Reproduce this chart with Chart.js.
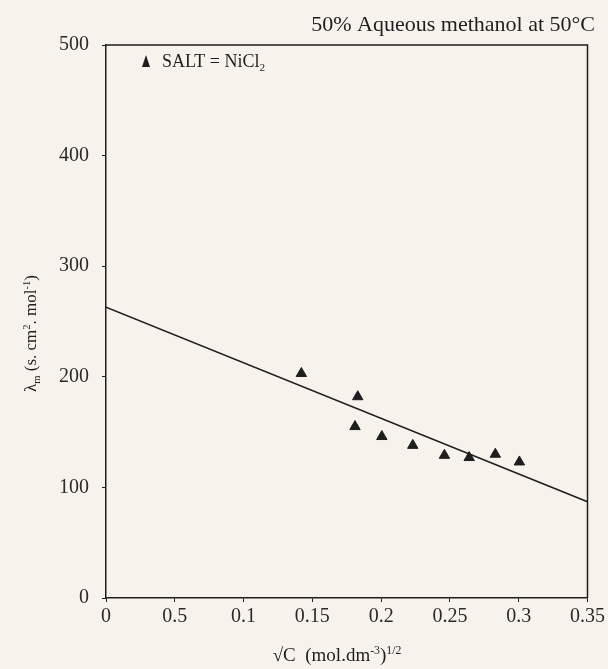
<!DOCTYPE html>
<html lang="en">
<head>
    <meta charset="UTF-8">
    <title>Molar conductance vs sqrt C</title>
    <script src="https://cdn.jsdelivr.net/npm/chart.js"></script>
    <style>
        body {
            margin: 0;
            padding: 0;
            background: #f7f3ec;
        }
        .chart-container {
            width: 608px;
            height: 669px;
        }
    </style>
</head>
<body>
    <div class="chart-container">
        <canvas id="condChart" width="608" height="669"></canvas>
    </div>

    <script>
        // Data
        const sqrtC = [0.142, 0.183, 0.181, 0.2005, 0.223, 0.246, 0.264, 0.283, 0.3005];
        const lambdaM = [203, 182, 155, 146, 138, 129, 127, 130, 123];

        // Fitted straight line (end points)
        const fitX = [0, 0.35];
        const fitY = [263, 87];

        // Tick labels as printed on the original
        const xTickLabels = ['0', '0.5', '0.1', '0.15', '0.2', '0.25', '0.3', '0.35'];
        const yTickValues = [0, 100, 200, 300, 400, 500];

        const serif = '"Liberation Serif", "DejaVu Serif", serif';
        const ink = '#1e1e1e';

        // draw text with sub / superscripts
        function richText(ctx, parts, x, y, size, align) {
            const fs = p => (p.sub || p.sup) ? size * 0.62 : size;
            let w = 0;
            parts.forEach(p => {
                ctx.font = fs(p) + 'px ' + serif;
                w += ctx.measureText(p.t).width;
            });
            let cx = align === 'center' ? x - w / 2 : (align === 'right' ? x - w : x);
            parts.forEach(p => {
                ctx.font = fs(p) + 'px ' + serif;
                const dy = p.sub ? size * 0.22 : (p.sup ? -size * 0.38 : 0);
                ctx.fillText(p.t, cx, y + dy);
                cx += ctx.measureText(p.t).width;
            });
        }

        const annotations = {
            id: 'annotations',
            afterDraw(chart) {
                const ctx = chart.ctx;
                const a = chart.chartArea;
                ctx.save();

                // frame top and right
                ctx.strokeStyle = ink;
                ctx.lineWidth = 1.5;
                ctx.beginPath();
                ctx.moveTo(a.left, a.top);
                ctx.lineTo(a.right, a.top);
                ctx.lineTo(a.right, a.bottom);
                ctx.stroke();

                ctx.fillStyle = ink;
                ctx.textBaseline = 'alphabetic';

                // title
                richText(ctx, [{ t: '50% Aqueous methanol at 50°C' }], 595, 31, 22, 'right');

                // legend
                const lx = a.left + 40, ly = a.top + 22;
                ctx.beginPath();
                ctx.moveTo(lx, ly - 12);
                ctx.lineTo(lx - 4, ly);
                ctx.lineTo(lx + 4, ly);
                ctx.closePath();
                ctx.fill();
                richText(ctx, [{ t: 'SALT = NiCl' }, { t: '2', sub: true }], lx + 16, ly, 18, 'left');

                // x axis title
                richText(ctx, [{ t: '√C  (mol.dm' }, { t: '-3', sup: true }, { t: ')' }, { t: '1/2', sup: true }],
                    337, 661, 19, 'center');

                // y axis title (rotated)
                ctx.translate(30, (a.top + a.bottom) / 2 + 12);
                ctx.rotate(-Math.PI / 2);
                richText(ctx, [{ t: 'λ' }, { t: 'm', sub: true }, { t: ' (s. cm' }, { t: '2', sup: true },
                    { t: '. mol' }, { t: '-1', sup: true }, { t: ')' }], 0, 6, 17, 'center');

                ctx.restore();
            }
        };

        const ctx = document.getElementById('condChart').getContext('2d');

        const condChart = new Chart(ctx, {
            type: 'scatter',
            data: {
                datasets: [{
                    label: 'SALT = NiCl2',
                    data: sqrtC.map((x, i) => ({ x: x, y: lambdaM[i] })),
                    pointStyle: 'triangle',
                    pointRadius: 6,
                    backgroundColor: ink,
                    borderColor: ink,
                    borderWidth: 1
                }, {
                    label: 'fit',
                    type: 'line',
                    data: fitX.map((x, i) => ({ x: x, y: fitY[i] })),
                    borderColor: ink,
                    borderWidth: 1.6,
                    pointRadius: 0,
                    fill: false
                }]
            },
            options: {
                responsive: false,
                animation: false,
                layout: {
                    padding: { top: 45, right: 18, left: 0, bottom: 0 }
                },
                plugins: {
                    legend: { display: false },
                    tooltip: { enabled: false }
                },
                scales: {
                    x: {
                        type: 'linear',
                        min: 0,
                        max: 0.35,
                        afterFit: s => { s.height = 71; },
                        border: { color: ink, width: 1.5 },
                        grid: { drawOnChartArea: false, tickLength: 4, color: ink },
                        ticks: {
                            stepSize: 0.05,
                            autoSkip: false,
                            maxRotation: 0,
                            padding: 3,
                            color: '#2a2a2a',
                            font: { family: serif, size: 20 },
                            callback: (v, i) => xTickLabels[i]
                        }
                    },
                    y: {
                        min: 0,
                        max: 500,
                        afterFit: s => { s.width = 106; },
                        afterBuildTicks: s => { s.ticks = yTickValues.map(v => ({ value: v })); },
                        border: { color: ink, width: 1.5 },
                        grid: { drawOnChartArea: false, tickLength: 4, color: ink },
                        ticks: {
                            padding: 13,
                            color: '#2a2a2a',
                            font: { family: serif, size: 20 }
                        }
                    }
                }
            },
            plugins: [annotations]
        });
    </script>
</body>
</html>
